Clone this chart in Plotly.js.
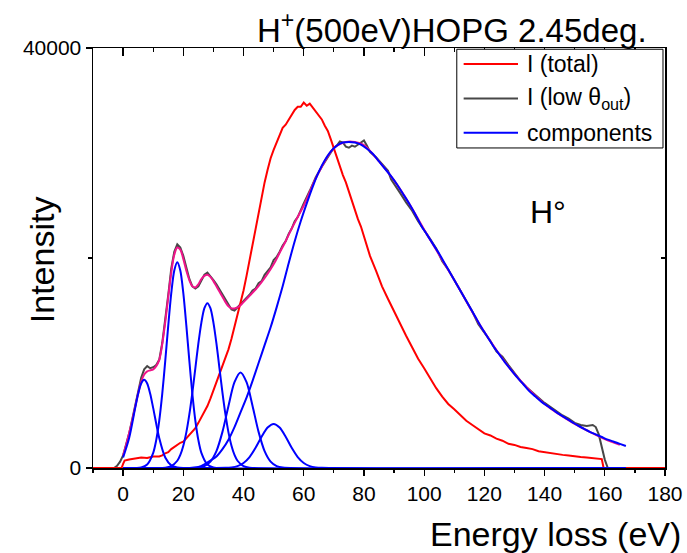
<!DOCTYPE html>
<html>
<head>
<meta charset="utf-8">
<script src="https://cdn.plot.ly/plotly-3.0.1.min.js"></script>
<style>html,body{margin:0;padding:0;background:#fff;}#chart{width:687px;height:553px;}</style>
</head>
<body>
<div id="chart"></div>
<script>
// ---- Data ----
// I (total), red
const xTotal = [-10,-0.5,0,0.5,2,4,6,8,10,12,13,14,15,16,17,18,19,20,21,22,23,24,25,26,27,28,29,30,31,32,33,34,35,36,37,38,39,40,41,42,43,44,45,46,47,48,49,50,51,52,53,54,55,56,57,58,59,60,61,62,63,64,65,66,67,68,69,70,71,72,73,74,75,76,77,78,79,80,82,84,86,88,90,92,94,96,98,100,102,104,106,108,110,112,114,116,118,120,122,124,126,128,130,132,134,136,138,140,142,144,146,148,150,152,154,156,158,159,159.6,180];
const yTotal = [0,0,400,700,800,900,1000,950,1100,1100,1200,1400,1500,1800,2000,2200,2400,2500,2800,3100,3400,3800,4300,4800,5300,5900,6600,7400,8100,8800,9600,10400,11300,12300,13400,14500,15600,16900,18300,19800,21400,22800,24300,25800,27200,28400,29500,30300,31000,31700,32400,32700,33200,33600,34100,34400,34400,34800,34500,34700,34300,34000,33600,33200,32600,32100,31300,30400,29600,28700,27900,27200,26300,25500,24700,23700,23000,22100,20200,18800,17300,16100,14900,13800,12600,11500,10400,9500,8500,7600,6800,6100,5600,5000,4500,4100,3700,3300,3100,2800,2600,2300,2200,2000,1900,1800,1600,1500,1400,1300,1250,1200,1100,1050,1000,950,880,850,0,0];

// I (low theta_out), dark grey
const xLow = [-10,-3,-2,-1,0,1,2,3,4,5,6,7,8,9,10,11,12,13,14,15,16,17,18,19,20,21,22,23,24,25,26,27,28,29,30,31,32,33,34,35,36,37,38,39,40,41,42,43,44,45,46,47,48,49,50,51,52,53,54,55,56,57,58,59,60,62,64,66,68,70,71,72,73,74,75,76,77,78,79,80,81,82,84,86,88,89,90,92,94,96,98,100,102,104,106,108,110,112,114,116,118,120,122,124,126,128,130,132,134,136,138,140,142,144,146,148,150,152,154,156,157,158,159,160,161,180];
const yLow = [0,0,200,600,1200,2200,3300,4600,6000,7400,8600,9400,9700,9500,9600,9800,10300,11900,14000,16500,19000,20600,21300,21000,20200,19200,18000,17300,17100,17300,17900,18400,18600,18300,17900,17500,17000,16500,16000,15500,15100,15000,15300,15700,15900,16300,16500,16900,17100,17600,17800,18400,18700,19100,19800,20100,20600,21200,21600,22300,22800,23500,23900,24600,25200,26400,27700,28700,29600,30500,30700,31100,31000,30600,30500,30700,30600,30800,31000,31200,30700,30100,29600,29000,28300,27500,27100,26200,25300,24500,23500,22700,21800,20900,19700,18900,17900,16900,15900,14900,13700,12900,12100,11100,10600,9800,9000,8300,7700,7200,6700,6200,5800,5400,5000,4700,4300,4100,4000,4100,3900,3200,2000,800,0,0];

// Fitted sum, magenta
const xFit = [0,1,2,3,4,5,6,7,8,9,10,11,12,13,14,15,16,17,18,19,20,21,22,23,24,25,26,27,28,29,30,31,32,33,34,35,36,37,38,39,40,42,44,46,48,50,52,54,56,58,60,62,64,66,68,70,72,74,76,78,80,85,90,95,100,110,120,130,140,150,155,160,165];
const yFit = [1200,2200,3300,4500,5800,7100,8200,8900,9200,9300,9400,9700,10300,11800,13900,16300,18600,20300,21000,20800,19900,18800,17900,17300,17200,17500,18000,18300,18400,18200,17800,17300,16800,16300,15800,15400,15200,15200,15300,15500,15800,16400,17000,17700,18500,19400,20500,21600,22800,23900,25000,26300,27600,28700,29700,30450,30850,31050,31080,30980,30750,29200,27400,25200,22700,17900,12950,8950,6100,4200,3450,2750,2200];

// Components, blue
const c1X = [0,2,4,5,6,7,8,9,10,12,14,16,18,20,167];
const c1Y = [1000,2850,5700,7070,8050,8400,8050,7070,5700,2850,1000,250,50,0,0];
const c2X = [0,6,8,10,11,12,13,14,15,16,17,18,19,20,21,22,23,24,25,26,28,30,167];
const c2Y = [0,54,330,1440,2650,4500,7060,10210,13580,16650,18820,19600,18820,16650,13580,10210,7060,4500,2650,1440,330,54,0];
const c3X = [0,14,16,18,19,20,21,22,23,24,25,26,27,28,29,30,31,32,33,34,35,36,37,38,40,42,167];
const c3Y = [0,35,175,690,1250,2120,3390,5100,7190,9520,11860,13850,15220,15700,15220,13850,11860,9520,7190,5100,3390,2120,1250,690,175,35,0];
const c4X = [0,25,27,29,31,33,35,37,39,41,43,45,47,49,51,53,167];
const c4Y = [0,45,185,610,1610,3440,5910,8170,9100,8170,5910,3440,1610,610,185,45,0];
const c5X = [0,34,36,38,40,42,44,46,48,50,52,54,56,58,60,62,64,66,167];
const c5Y = [0,16,59,184,480,1040,1920,2970,3850,4200,3850,2970,1920,1040,480,184,59,16,0];
const c6X = [0,22,25,27,29,31,33,35,37,39,41,43,45,47,49,51,53,55,57,59,61,63,65,67,69,71,73,75,77,79,81,83,85,87,89,91,93,95,97,99,101,103,105,107,109,111,113,115,117,119,121,123,125,127,129,131,133,135,137,139,141,143,145,147,149,151,153,155,157,159,161,163,165,167];
const c6Y = [0,0,100,350,700,1100,1800,2700,3900,5300,6700,8300,10000,11700,13400,15300,17300,19500,21600,23500,25200,26800,28200,29300,30150,30700,31000,31050,31000,30800,30400,29900,29200,28500,27800,27000,26100,25200,24200,23100,22200,21300,20400,19400,18400,17400,16400,15400,14400,13400,12500,11600,10800,10000,9300,8600,7950,7300,6800,6300,5900,5500,5100,4750,4400,4050,3750,3450,3200,2950,2700,2500,2300,2100];

const legendNames = ['I (total)', 'I (low θ<sub>out</sub>)', 'components'];
const legendColors = ['#ff0000', '#474747', '#0000ff'];
const xTickVals = [0,20,40,60,80,100,120,140,160,180];
const yTickVals = [0,40000];
const xRange = [-10,180];
const yRange = [0,40000];

// ---- Traces ----
// grey curve on the bottom/left axes (drawn first), the rest on the mirrored
// top/right axes (same ranges) so that those axes are drawn with inward ticks.
const FONT = 'Liberation Sans, Arial, sans-serif';
const traces = [];
traces.push({x:xLow, y:yLow, type:'scatter', mode:'lines', name:'I (low θout)',
  xaxis:'x', yaxis:'y', line:{color:legendColors[1], width:2}});
traces.push({x:xTotal, y:yTotal, type:'scatter', mode:'lines', name:'I (total)',
  xaxis:'x2', yaxis:'y2', line:{color:legendColors[0], width:2}});
traces.push({x:xFit, y:yFit, type:'scatter', mode:'lines', name:'fit',
  xaxis:'x2', yaxis:'y2', line:{color:'#f0148a', width:2, shape:'spline'}});
const comps = [[c1X,c1Y],[c2X,c2Y],[c3X,c3Y],[c4X,c4Y],[c5X,c5Y],[c6X,c6Y]];
comps.forEach((c,i)=>{
  traces.push({x:c[0], y:c[1], type:'scatter', mode:'lines', name:'component '+(i+1),
    xaxis:'x2', yaxis:'y2', line:{color:legendColors[2], width:2, shape:'spline', smoothing:0.8}});
});

const axisCommon = {showgrid:false, zeroline:false, showline:true, linecolor:'#000', linewidth:1.5,
  tickcolor:'#000', tickwidth:1.3};

// ---- Legend box (drawn in paper coordinates) ----
const lgX0 = 0.636, lgX1 = 0.9965, lgY0 = 0.762, lgY1 = 0.997;
const lgRows = [0.962, 0.880, 0.798];
const shapes = [{type:'rect', xref:'paper', yref:'paper', x0:lgX0, x1:lgX1, y0:lgY0, y1:lgY1,
  line:{color:'#000', width:1}, fillcolor:'#fff', layer:'above'}];
const annotations = [];
legendNames.forEach((n,i)=>{
  shapes.push({type:'line', xref:'paper', yref:'paper', x0:0.648, x1:0.743, y0:lgRows[i], y1:lgRows[i],
    line:{color:legendColors[i], width:2}, layer:'above'});
  annotations.push({text:n, xref:'paper', yref:'paper', x:0.755, y:lgRows[i], xanchor:'left', yanchor:'middle',
    showarrow:false, font:{family:FONT, size:23, color:'#000'}});
});
annotations.push(
  {text:'H<sup>+</sup>(500eV)HOPG 2.45deg.', xref:'paper', yref:'paper', x:0.972, y:1,
   xanchor:'right', yanchor:'bottom', yshift:-3, showarrow:false, font:{family:FONT, size:33, color:'#000'}},
  {text:'Energy loss (eV)', xref:'paper', yref:'paper', x:1.032, y:-0.158,
   xanchor:'right', yanchor:'middle', showarrow:false, font:{family:FONT, size:34, color:'#000'}},
  {text:'Intensity', xref:'paper', yref:'paper', x:-0.089, y:0.495, textangle:-90,
   xanchor:'center', yanchor:'middle', showarrow:false, font:{family:FONT, size:34, color:'#000'}},
  {text:'H°', xref:'paper', yref:'paper', x:0.795, y:0.61,
   xanchor:'center', yanchor:'middle', showarrow:false, font:{family:FONT, size:32, color:'#000'}}
);

const layout = {
  width:687, height:553,
  margin:{l:93, r:22, t:48, b:85},
  paper_bgcolor:'#fff', plot_bgcolor:'#fff',
  font:{family:FONT, color:'#000', size:21},
  showlegend:false,
  xaxis:Object.assign({}, axisCommon, {range:xRange, tickmode:'array', tickvals:xTickVals,
    ticks:'outside', ticklen:6, tickfont:{family:FONT, size:21},
    minor:{dtick:10, tick0:0, ticks:'outside', ticklen:3, tickwidth:1.3, tickcolor:'#000'}}),
  yaxis:Object.assign({}, axisCommon, {range:yRange, tickmode:'array', tickvals:yTickVals,
    tickformat:'d', ticks:'outside', ticklen:6, tickfont:{family:FONT, size:21},
    minor:{dtick:20000, tick0:0, ticks:'outside', ticklen:4, tickwidth:1.3, tickcolor:'#000'}}),
  xaxis2:Object.assign({}, axisCommon, {overlaying:'x', side:'top', anchor:'y2', range:xRange,
    tickmode:'linear', tick0:0, dtick:20, ticks:'inside', ticklen:8, showticklabels:false,
    minor:{dtick:10, tick0:0, ticks:'inside', ticklen:4, tickwidth:1.3, tickcolor:'#000'}}),
  yaxis2:Object.assign({}, axisCommon, {overlaying:'y', side:'right', anchor:'x2', range:yRange,
    tickmode:'linear', tick0:0, dtick:40000, ticks:'inside', ticklen:6, showticklabels:false,
    minor:{dtick:20000, tick0:0, ticks:'inside', ticklen:4, tickwidth:1.3, tickcolor:'#000'}}),
  shapes:shapes,
  annotations:annotations
};

Plotly.newPlot('chart', traces, layout, {staticPlot:true, displayModeBar:false});
</script>
</body>
</html>
